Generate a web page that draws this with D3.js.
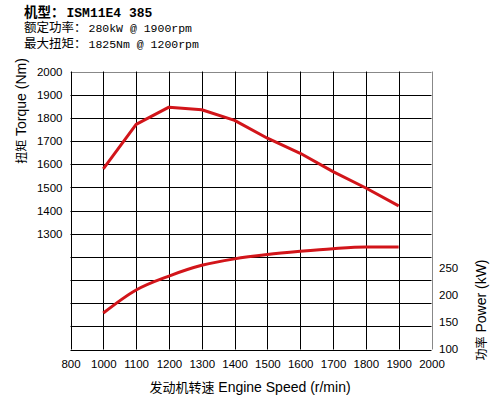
<!DOCTYPE html>
<html><head><meta charset="utf-8">
<script src="https://cdn.jsdelivr.net/npm/d3@7"></script>
<style>
html,body{margin:0;padding:0;background:#fff;}
svg{display:block;}
text{font-family:"Liberation Sans",Arial,"Noto Sans CJK SC",sans-serif;fill:#000;}
.cjk{font-family:"Noto Sans CJK SC",sans-serif;}
.mono{font-family:"Liberation Mono","DejaVu Sans Mono",monospace;}
</style></head>
<body>
<script>
// ---- data ----
const xTickLabels = ["800","1000","1100","1200","1300","1400","1500","1600","1700","1800","1900","2000"];
const speeds = [1000,1100,1200,1300,1400,1500,1600,1700,1800,1900];
const torque = [1580,1772,1846,1835,1789,1712,1647,1568,1497,1420];
const power  = [166,209,235,255,267,275,281,286,289,289];
const torqueGrid = [800,900,1000,1100,1200,1300,1400,1500,1600,1700,1800,1900,2000];
const torqueTicks = [1300,1400,1500,1600,1700,1800,1900,2000];
const powerTicks = [100,150,200,250];
const titleLines = [
  {cjk:"机型：", txt:"ISM11E4 385", bold:true},
  {cjk:"额定功率：", txt:"280kW @ 1900rpm", bold:false},
  {cjk:"最大扭矩：", txt:"1825Nm @ 1200rpm", bold:false}
];

const W = 491, H = 397;
const L = 70.5, R = 431.5, T = 71.5, B = 349.5;
const svg = d3.select("body").append("svg").attr("width", W).attr("height", H);

const x = d3.scalePoint().domain(xTickLabels).range([L, R]);
const yT = d3.scaleLinear().domain([800, 2000]).range([B, T]);
const yP = d3.scaleLinear().domain([100, 250]).range([B - 1, 268]);
const fmt = d3.format("d");

// grid
const g = svg.append("g");
g.selectAll("line.h").data(torqueGrid).join("line")
  .attr("x1", L).attr("x2", R)
  .attr("y1", d => Math.round(yT(d)) + 0.5).attr("y2", d => Math.round(yT(d)) + 0.5)
  .attr("stroke", d => d === 2000 ? "#888" : "#000").attr("stroke-width", 1);
g.selectAll("line.v").data(xTickLabels).join("line")
  .attr("x1", d => Math.round(x(d)) + 0.5).attr("x2", d => Math.round(x(d)) + 0.5)
  .attr("y1", T).attr("y2", B)
  .attr("stroke", d => d === "2000" ? "#888" : "#000").attr("stroke-width", 1);

// axes (labels only)
const axL = d3.axisLeft(yT).tickValues(torqueTicks).tickFormat(fmt).tickSize(0).tickPadding(8);
svg.append("g").attr("transform", `translate(${L},0)`).call(axL)
  .call(s => s.select(".domain").remove())
  .selectAll("text").attr("font-size", 11.5).attr("font-family", "Liberation Sans, Arial, sans-serif");

const axB = d3.axisBottom(x).tickSize(0).tickPadding(10);
svg.append("g").attr("transform", `translate(0,${B})`).call(axB)
  .call(s => s.select(".domain").remove())
  .selectAll("text").attr("font-size", 11.5).attr("font-family", "Liberation Sans, Arial, sans-serif");

const axR = d3.axisRight(yP).tickValues(powerTicks).tickFormat(fmt).tickSize(0).tickPadding(8);
svg.append("g").attr("transform", `translate(${R - 0.5},0)`).call(axR)
  .call(s => s.select(".domain").remove())
  .selectAll("text").attr("font-size", 11.5).attr("font-family", "Liberation Sans, Arial, sans-serif");

// curves
const red = "#d2151a";
const lineT = d3.line().x((d, i) => x(String(speeds[i]))).y(d => yT(d));
const lineP = d3.line().x((d, i) => x(String(speeds[i]))).y(d => yP(d)).curve(d3.curveMonotoneX);
svg.append("path").datum(torque).attr("d", lineT).attr("fill", "none")
  .attr("stroke", red).attr("stroke-width", 3).attr("stroke-linejoin", "round");
svg.append("path").datum(power).attr("d", lineP).attr("fill", "none")
  .attr("stroke", red).attr("stroke-width", 3).attr("stroke-linejoin", "round");

// axis titles
const yl = svg.append("text").attr("transform", `translate(26,111) rotate(-90)`)
  .attr("text-anchor", "middle").attr("font-size", 14);
yl.append("tspan").attr("class", "cjk").attr("font-size", 12).text("扭矩");
yl.append("tspan").text(" Torque (Nm)");

const yr = svg.append("text").attr("transform", `translate(486,310) rotate(-90)`)
  .attr("text-anchor", "middle").attr("font-size", 14);
yr.append("tspan").attr("class", "cjk").attr("font-size", 12).text("功率");
yr.append("tspan").text(" Power (kW)");

const xl = svg.append("text").attr("x", 250).attr("y", 392)
  .attr("text-anchor", "middle").attr("font-size", 14);
xl.append("tspan").attr("class", "cjk").attr("font-size", 13).text("发动机转速");
xl.append("tspan").text(" Engine Speed (r/min)");

// title block: CJK label and ASCII value as separate texts
const tY = [17, 32, 48];
titleLines.forEach((ln, i) => {
  const cs = ln.bold ? 13.5 : 12.5;
  svg.append("text").attr("class", "cjk").attr("x", 24).attr("y", tY[i])
    .attr("font-size", cs).attr("font-weight", ln.bold ? "bold" : "normal").text(ln.cjk);
  svg.append("text").attr("class", "mono").attr("x", 24 + ln.cjk.length * cs + 2).attr("y", tY[i])
    .attr("font-size", ln.bold ? 13 : 11.5).attr("font-weight", ln.bold ? "bold" : "normal").text(ln.txt);
});
</script>
</body></html>
